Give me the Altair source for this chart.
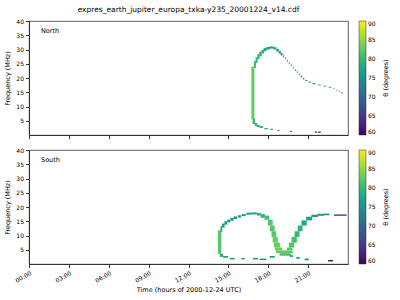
import altair as alt
import pandas as pd

FONT = "DejaVu Sans"

# ---------------- North: cells (time start/end in hours, freq low/high in MHz, theta in deg)
n_t0 = [16.73, 16.92, 17.05, 17.18, 17.32, 17.48, 17.65, 17.85, 18.10, 18.38, 18.60, 18.78, 18.93, 19.10,
        19.25, 19.40, 19.55, 19.70, 19.85, 20.00, 20.15, 20.30, 20.45, 20.62, 20.80, 21.05, 21.35, 21.75,
        22.15, 22.55, 22.90, 23.10, 23.30, 23.50,
        16.82, 17.00, 17.15, 17.35, 17.70, 18.16, 18.70, 19.65, 21.50, 21.75]
n_t1 = [16.96, 17.08, 17.20, 17.35, 17.50, 17.68, 17.88, 18.12, 18.40, 18.62, 18.80, 18.95, 19.08, 19.18,
        19.32, 19.47, 19.62, 19.77, 19.92, 20.07, 20.22, 20.37, 20.55, 20.72, 20.95, 21.20, 21.55, 21.95,
        22.35, 22.75, 23.00, 23.20, 23.40, 23.60,
        17.00, 17.15, 17.35, 17.60, 17.98, 18.36, 18.84, 19.78, 21.68, 21.95]
n_f0 = [5.5, 23.5, 25.3, 26.6, 27.6, 28.6, 29.4, 30.0, 30.3, 30.0, 29.3, 28.6, 27.9, 27.2,
        26.6, 25.7, 24.9, 24.1, 23.3, 22.5, 21.8, 21.0, 20.2, 19.5, 18.9, 18.3, 17.8, 17.4,
        17.0, 16.6, 16.1, 15.6, 15.2, 14.6,
        3.8, 3.2, 2.8, 2.5, 2.0, 1.8, 1.4, 1.1, 0.8, 0.8]
n_f1 = [24.0, 26.0, 27.3, 28.4, 29.2, 29.9, 30.5, 30.9, 31.1, 30.8, 30.2, 29.5, 28.8, 28.0,
        27.3, 26.4, 25.5, 24.7, 23.9, 23.1, 22.4, 21.6, 20.8, 20.0, 19.3, 18.7, 18.2, 17.7,
        17.3, 16.9, 16.4, 15.9, 15.5, 15.0,
        5.8, 4.2, 3.5, 3.1, 2.4, 2.2, 1.8, 1.5, 1.2, 1.2]
n_theta = [83, 81, 80, 80, 79, 79, 78, 77, 77, 77, 77, 76, 76, 76,
           75, 75, 75, 75, 75, 74, 74, 74, 74, 74, 73, 73, 73, 73,
           73, 73, 73, 73, 73, 73,
           80, 78, 77, 76, 76, 75, 68, 61, 61, 61]

# ---------------- South
s_t0 = [14.22, 14.40, 14.52, 14.70, 14.92, 15.15, 15.40, 15.70, 16.00, 16.35, 16.75, 17.15, 17.42,
        17.72, 17.98, 18.12, 18.24, 18.33, 18.42, 18.50, 19.40, 18.58, 18.85,
        19.55, 19.75, 19.98, 20.22, 20.50, 20.85, 21.25, 21.70, 22.15, 22.95,
        14.35, 14.60, 15.10, 15.97, 16.85, 17.35, 18.11, 19.62, 20.11, 20.74, 22.50]
s_t1 = [14.47, 14.55, 14.72, 14.92, 15.15, 15.40, 15.65, 15.95, 16.30, 16.75, 17.15, 17.45, 17.75,
        18.08, 18.33, 18.48, 18.60, 18.72, 18.90, 19.05, 19.82, 19.85, 19.70,
        19.95, 20.15, 20.35, 20.58, 20.90, 21.30, 21.75, 22.20, 22.60, 23.90,
        14.60, 14.97, 15.48, 16.23, 17.23, 17.86, 18.49, 19.86, 20.37, 21.05, 22.87]
s_f0 = [3.6, 11.3, 12.8, 13.8, 14.6, 15.2, 15.8, 16.3, 16.8, 17.3, 17.4, 17.0, 16.2,
        15.5, 13.5, 11.5, 9.5, 7.5, 5.8, 4.8, 4.8, 3.8, 2.9,
        5.8, 7.5, 9.5, 11.5, 13.5, 15.3, 16.5, 16.9, 17.1, 16.9,
        2.5, 2.2, 1.6, 1.6, 1.6, 1.4, 2.2, 2.5, 1.8, 1.3, 0.9]
s_f1 = [11.8, 13.3, 14.2, 15.0, 15.6, 16.2, 16.7, 17.1, 17.5, 18.0, 18.1, 17.9, 17.5,
        17.0, 15.5, 13.5, 11.5, 9.5, 7.5, 5.8, 5.8, 4.8, 3.8,
        7.5, 9.5, 11.5, 13.5, 15.3, 16.6, 17.3, 17.6, 17.7, 17.4,
        3.6, 2.8, 2.1, 2.1, 2.1, 1.9, 2.8, 3.1, 2.4, 1.9, 1.4]
s_theta = [82, 79, 77, 77, 76, 76, 76, 76, 76, 76, 77, 79, 80,
           81, 82, 82, 82, 83, 83, 83, 82, 83, 81,
           82, 81, 80, 79, 78, 77, 76, 76, 75, 66,
           79, 77, 76, 75, 75, 75, 76, 76, 76, 74, 61]

x_ticks = [0, 3, 6, 9, 12, 15, 18, 21]
y_ticks = [5, 10, 15, 20, 25, 30, 35, 40]
cbar_ticks = [60, 65, 70, 75, 80, 85, 90]

title_text = "expres_earth_jupiter_europa_txka-y235_20001224_v14.cdf"
x_title = "Time (hours of 2000-12-24 UTC)"
y_title = "Frequency (MHz)"
cbar_title = "θ (degrees)"


def panel(t0, t1, f0, f1, th, label, bottom):
    df = pd.DataFrame({"t0": t0, "t1": t1, "f0": f0, "f1": f1, "theta": th})
    if bottom:
        xaxis = alt.Axis(values=x_ticks, title=x_title,
                         labelExpr="(datum.value < 10 ? '0' : '') + datum.value + ':00'",
                         labelAngle=330, labelAlign="right", labelBaseline="top",
                         grid=False, titlePadding=3)
    else:
        xaxis = alt.Axis(values=x_ticks, labels=False, title=None, grid=False)
    rects = alt.Chart(df).mark_rect().encode(
        x=alt.X("t0:Q", scale=alt.Scale(domain=[0, 24], nice=False, zero=False), axis=xaxis),
        x2="t1:Q",
        y=alt.Y("f0:Q", scale=alt.Scale(domain=[0, 40], nice=False, zero=False),
                axis=alt.Axis(values=y_ticks, title=y_title, grid=False)),
        y2="f1:Q",
        color=alt.Color("theta:Q", scale=alt.Scale(scheme="viridis", domain=[60, 90]),
                        legend=alt.Legend(title=None, values=cbar_ticks, orient="right", offset=11,
                                          gradientLength=114, gradientThickness=7, padding=0,
                                          labelFontSize=6, labelFont=FONT,
                                          gradientStrokeColor="#333", gradientStrokeWidth=0.5)),
    )
    lbl = alt.Chart(pd.DataFrame({"label": [label]})).mark_text(
        align="left", baseline="middle", fontSize=6.5, font=FONT, color="black"
    ).encode(text="label:N", x=alt.value(12), y=alt.value(10))
    cbt = alt.Chart(pd.DataFrame({"t": [cbar_title]})).mark_text(
        angle=270, align="center", baseline="middle", fontSize=6.5, font=FONT, color="black"
    ).encode(text="t:N", x=alt.value(357), y=alt.value(57))
    layer = alt.layer(rects, lbl, cbt).properties(width=319, height=114)
    return layer


top = panel(n_t0, n_t1, n_f0, n_f1, n_theta, "North", False).properties(
    title=alt.TitleParams(title_text, fontSize=7.5, font=FONT, fontWeight="normal",
                          anchor="middle", frame="group", offset=5, color="black")
)
bot = panel(s_t0, s_t1, s_f0, s_f1, s_theta, "South", True)

chart = alt.vconcat(top, bot, spacing=6).resolve_scale(color="independent").properties(
    padding={"left": 4, "top": 5, "right": 5, "bottom": 5}
).configure_view(stroke="#333", strokeWidth=0.8).configure_axis(
    labelFont=FONT, titleFont=FONT, labelFontSize=6, titleFontSize=6.5, titleFontWeight="normal",
    tickSize=3.5, tickColor="#333", domainColor="#333", labelColor="black", titleColor="black",
    labelPadding=2, titlePadding=5
)

chart.save("out.html", embed_options={"renderer": "svg", "actions": False})
